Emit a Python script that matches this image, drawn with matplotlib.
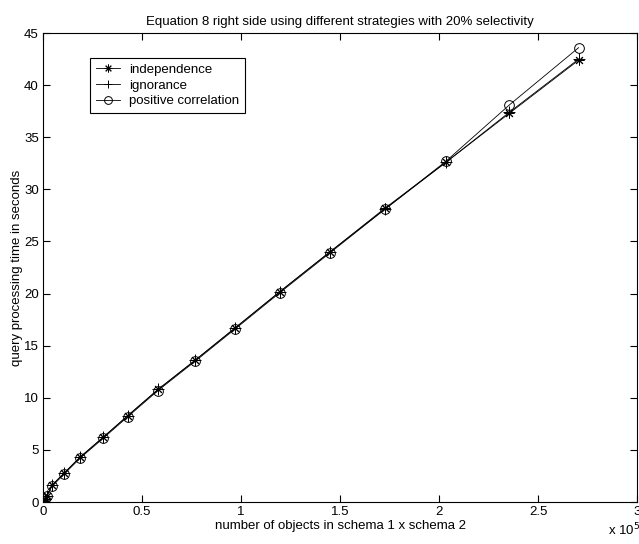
import matplotlib
matplotlib.use('Agg')
import matplotlib.pyplot as plt

plt.rcParams['font.family'] = ['Liberation Sans', 'DejaVu Sans']
plt.rcParams['font.size'] = 9.5

# number of objects, in units of 1e5
n_objects = [0.002, 0.008, 0.02, 0.045, 0.108, 0.187, 0.303, 0.429, 0.581,
             0.768, 0.970, 1.197, 1.449, 1.727, 2.035, 2.355, 2.705]
independence = [0.1, 0.3, 0.6, 1.6, 2.8, 4.3, 6.2, 8.3, 10.8, 13.6, 16.7,
                20.2, 24.0, 28.2, 32.6, 37.3, 42.4]
ignorance = [0.1, 0.3, 0.6, 1.6, 2.8, 4.3, 6.2, 8.3, 10.8, 13.6, 16.7,
             20.2, 24.0, 28.1, 32.6, 37.4, 42.5]
positive = [0.1, 0.3, 0.6, 1.5, 2.7, 4.2, 6.1, 8.2, 10.7, 13.5, 16.6,
            20.1, 23.9, 28.1, 32.7, 38.1, 43.6]

fig = plt.figure(figsize=(6.39, 5.44), dpi=100)
ax = fig.add_axes([0.0673, 0.0772, 0.9296, 0.862])

ax.plot(n_objects, independence, color='black', lw=0.6, marker=(8, 2, 0),
        ms=7, mew=0.7, label='independence')
ax.plot(n_objects, ignorance, color='black', lw=0.6, marker='+',
        ms=8, mew=0.7, label='ignorance')
ax.plot(n_objects, positive, color='black', lw=0.6, marker='o',
        ms=7, mew=0.7, mfc='none', label='positive correlation')

ax.set_xlim(0, 3)
ax.set_ylim(0, 45)
ax.set_xticks([0, 0.5, 1, 1.5, 2, 2.5, 3])
ax.set_xticklabels(['0', '0.5', '1', '1.5', '2', '2.5', '3'])
ax.set_yticks(range(0, 46, 5))
ax.tick_params(direction='in', top=True, right=True, length=5, width=0.8,
               labelsize=9.5, pad=3)
for s in ax.spines.values():
    s.set_linewidth(0.8)

ax.set_title('Equation 8 right side using different strategies with 20% selectivity',
             fontsize=9.5, pad=6)
ax.set_xlabel('number of objects in schema 1 x schema 2', fontsize=9.5, labelpad=1)
ax.set_ylabel('query processing time in seconds', fontsize=9.5, labelpad=1)
fig.text(0.951, 0.016, r'x 10$^5$', fontsize=9.5)

leg = ax.legend(loc='upper left', bbox_to_anchor=(0.079, 0.947), fancybox=False,
                edgecolor='black', framealpha=1, fontsize=9.5, handlelength=1.8,
                borderpad=0.45, labelspacing=0.25, handletextpad=0.7,
                borderaxespad=0, markerscale=0.8)
leg.get_frame().set_linewidth(0.8)

fig.savefig('out.png', dpi=100)
